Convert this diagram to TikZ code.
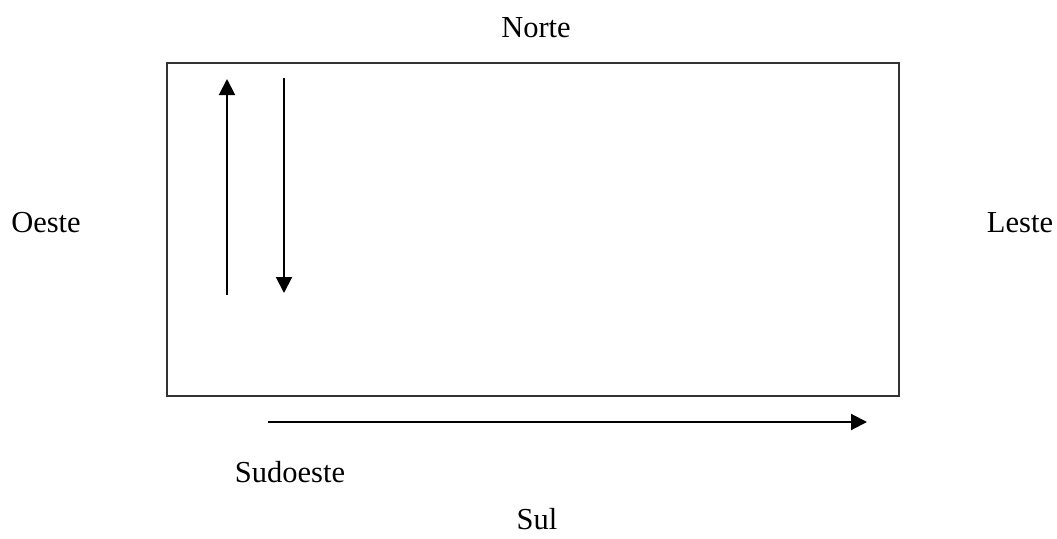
\documentclass[tikz,border=0pt]{standalone}
\usepackage{fontspec}
\setmainfont{Liberation Serif}
\usetikzlibrary{positioning,arrows.meta}
\tikzstyle{dirlabelstyle}=[anchor=base,inner sep=0pt,text depth=0pt,font=\fontsize{30.5}{36}\selectfont]
\tikzstyle{fieldstyle}=[draw=black!80,line width=1.5pt]
\tikzstyle{flowstyle}=[draw=black,line width=2pt,-{Triangle[length=16pt,width=16pt]}]

\begin{document}
\begin{tikzpicture}[x=1pt,y=-1pt]
\useasboundingbox (0,0) rectangle (1057,538);

\draw [style=fieldstyle] (167,63) rectangle (899,396); %
\node [style=dirlabelstyle] (norte) at (536,37) {Norte}; %
\node [style=dirlabelstyle] (sul) at (537,529) {Sul}; %
\node [style=dirlabelstyle] (oeste) at (46,232) {Oeste}; %
\node [style=dirlabelstyle] (leste) at (1020,232) {Leste}; %
\node [style=dirlabelstyle] (sudoeste) at (290,482) {Sudoeste}; %
\coordinate (upA) at (227,295); \coordinate (upB) at (227,79); %
\coordinate (downA) at (284,78); \coordinate (downB) at (284,293); %
\coordinate (rightA) at (268,422); \coordinate (rightB) at (867,422); %
\draw [style=flowstyle] (upA) -- (upB); %
\draw [style=flowstyle] (downA) -- (downB); %
\draw [style=flowstyle] (rightA) -- (rightB); %
\end{tikzpicture}
\end{document}
